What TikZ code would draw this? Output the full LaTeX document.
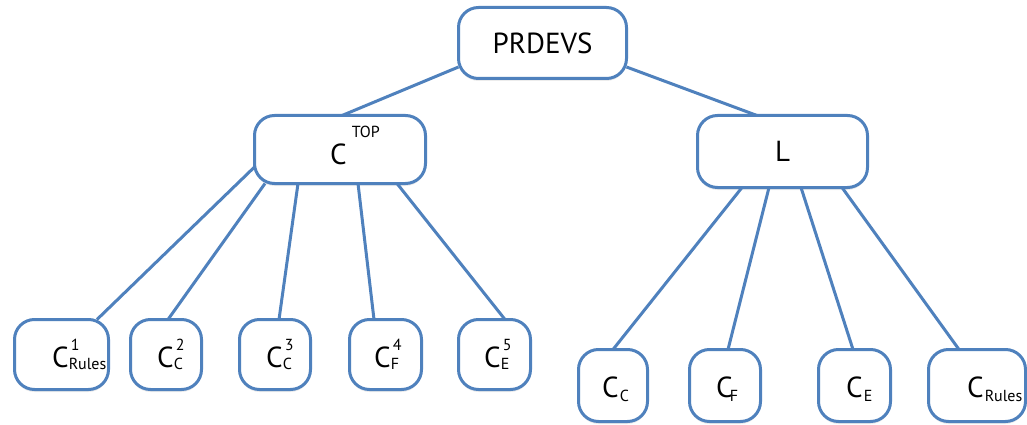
\documentclass[tikz,border=0pt]{standalone}
\usepackage{fontspec}
\setmainfont{PT Sans}
\usetikzlibrary{shadows}
\definecolor{boxblue}{HTML}{4F81BD}
\newcommand{\mainsz}{\fontsize{29}{29}\selectfont}
\newcommand{\idxsz}{\fontsize{16}{16}\selectfont}
\newcommand{\cidx}[2]{C\makebox[0pt][l]{\kern2pt\raisebox{17pt}{\idxsz #1}}\raisebox{-2pt}{\idxsz #2}}
\newcommand{\csub}[1]{C\kern1pt\raisebox{-4pt}{\idxsz #1}}
\begin{document}
\begin{tikzpicture}[x=1pt,y=-1pt,
    box/.style={draw=boxblue,line width=3pt,fill=white,rounded corners=20pt,inner sep=0pt,outer sep=0pt,font=\mainsz,
      drop shadow={shadow xshift=0pt,shadow yshift=-2.5pt,opacity=0.15}},
    txt/.style={inner sep=0pt,anchor=base west,font=\mainsz},
    link/.style={draw=boxblue,line width=3pt}]
    \useasboundingbox (0,0) rectangle (1027,425);
    \node[box,minimum width=168pt,minimum height=71pt] (prdevs) at (542.5,43) {PRDEVS};
    \node[box,minimum width=171pt,minimum height=68pt] (ctop) at (340,149.5) {};
    \node[box,minimum width=170pt,minimum height=72pt] (lnode) at (782.5,151.5) {L};
    \node[box,minimum width=94pt,minimum height=70pt] (c1) at (61.5,354.5) {};
    \node[box,minimum width=71pt,minimum height=70pt] (c2) at (166,354.5) {};
    \node[box,minimum width=71pt,minimum height=70pt] (c3) at (275,354.5) {};
    \node[box,minimum width=72pt,minimum height=70pt] (c4) at (385.5,354.5) {};
    \node[box,minimum width=72pt,minimum height=70pt] (c5) at (494.5,354.5) {};
    \node[box,minimum width=69pt,minimum height=72pt] (d1) at (613,385.5) {};
    \node[box,minimum width=71pt,minimum height=72pt] (d2) at (725,385.5) {};
    \node[box,minimum width=72pt,minimum height=72pt] (d3) at (854.5,385.5) {};
    \node[box,minimum width=97pt,minimum height=72pt] (d4) at (977,385.5) {};
    \node[txt] (ctopt) at (330,164) {C\kern5pt\raisebox{26pt}{\idxsz TOP}};
    \node[txt] (c1t) at (52,367) {\cidx{1}{Rules}};
    \node[txt] (c2t) at (157,367) {\cidx{2}{C}};
    \node[txt] (c3t) at (266,367) {\cidx{3}{C}};
    \node[txt] (c4t) at (374,367) {\cidx{4}{F}};
    \node[txt] (c5t) at (484,367) {\cidx{5}{E}};
    \node[txt] (d1t) at (602,397) {\csub{C}};
    \node[txt] (d2t) at (716,397) {C\kern-3pt\raisebox{-4pt}{\idxsz F}};
    \node[txt] (d3t) at (846,397) {\csub{E}};
    \node[txt] (d4t) at (967,397) {\csub{Rules}};
    \draw[link] ([yshift=-24pt]prdevs.west) -- ([xshift=2pt]ctop.north);
    \draw[link] ([yshift=-24pt]prdevs.east) -- ([xshift=-25.5pt]lnode.north);
    \draw[link] ([yshift=-17.5pt]ctop.west) -- ([xshift=35.5pt]c1.north);
    \draw[link] ([xshift=-75pt]ctop.south) -- ([xshift=2pt]c2.north);
    \draw[link] ([xshift=-42pt]ctop.south) -- ([xshift=4pt]c3.north);
    \draw[link] ([xshift=18pt]ctop.south) -- ([xshift=-11.5pt]c4.north);
    \draw[link] ([xshift=57pt]ctop.south) -- ([xshift=10.5pt]c5.north);
    \draw[link] ([xshift=-40.5pt]lnode.south) -- (d1.north);
    \draw[link] ([xshift=-13.5pt]lnode.south) -- ([xshift=3pt]d2.north);
    \draw[link] ([xshift=18.5pt]lnode.south) -- ([xshift=-1.5pt]d3.north);
    \draw[link] ([xshift=59.5pt]lnode.south) -- ([xshift=-18pt]d4.north);
\end{tikzpicture}
\end{document}
